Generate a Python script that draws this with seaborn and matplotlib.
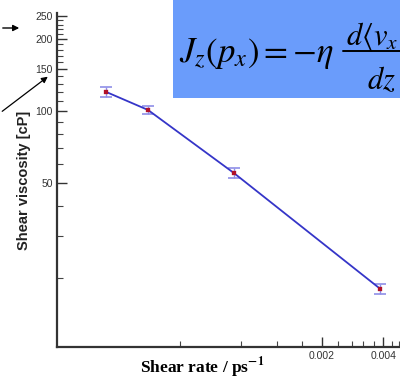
import numpy as np
import pandas as pd
import matplotlib
matplotlib.use("Agg")
import matplotlib.pyplot as plt
from matplotlib.ticker import FixedLocator, NullFormatter, FixedFormatter
from matplotlib.patches import Rectangle, FancyArrowPatch
from matplotlib.lines import Line2D
import seaborn as sns

# ---- data ----
shear_rate = [0.000175, 0.00028, 0.00074, 0.00388]
viscosity = [120.0, 101.0, 55.0, 18.0]
viscosity_err = [6.0, 3.5, 2.5, 0.9]
y_major = [50, 100, 150, 200, 250]
y_labels = ["50", "100", "150", "200", "250"]
x_major = [0.002, 0.004]
x_labels = ["0.002", "0.004"]

sns.set_style("white")
plt.rcParams["font.family"] = ["Liberation Sans", "DejaVu Sans"]
plt.rcParams["mathtext.fontset"] = "stix"

W, H = 400, 379
fig = plt.figure(figsize=(W / 100, H / 100), dpi=100)
left, right, top, bottom = 57, 400, 13, 347
ax = fig.add_axes([left / W, (H - bottom) / H, (right - left) / W, (bottom - top) / H])
ax.set_facecolor("white")

df = pd.DataFrame({"rate": shear_rate, "visc": viscosity, "err": viscosity_err})

ax.set_xscale("log")
ax.set_yscale("log")

ax.errorbar(df["rate"], df["visc"], yerr=df["err"], fmt="none",
            ecolor="#8f8fe8", elinewidth=1.0, capsize=4.5, capthick=1.2, zorder=2)
sns.lineplot(data=df, x="rate", y="visc", ax=ax, color="#3535c8",
             linewidth=1.3, zorder=3)
sns.scatterplot(data=df, x="rate", y="visc", ax=ax, marker="s", s=8,
                color="#b0102a", edgecolor="#b0102a", zorder=4)

ax.set_xlim(1e-4, 0.00484)
ax.set_ylim(10.3, 257)

# ticks
ax.yaxis.set_major_locator(FixedLocator(y_major))
ax.yaxis.set_major_formatter(FixedFormatter(y_labels))
y_minor = [v for v in range(20, 260, 10) if v not in y_major]
ax.yaxis.set_minor_locator(FixedLocator(y_minor))
ax.yaxis.set_minor_formatter(NullFormatter())

ax.xaxis.set_major_locator(FixedLocator(x_major))
ax.xaxis.set_major_formatter(FixedFormatter(x_labels))
x_minor = [0.0004 * k for k in range(1, 13) if k not in (5, 10)]
ax.xaxis.set_minor_locator(FixedLocator(x_minor))
ax.xaxis.set_minor_formatter(NullFormatter())

ax.tick_params(axis="both", which="major", direction="in", length=7, width=1.0,
               color="#333333", labelsize=7.5, labelcolor="#333333", pad=3)
ax.tick_params(axis="both", which="minor", direction="in", length=4, width=0.8,
               color="#444444")
ax.tick_params(axis="y", which="both", left=True, right=False)
ax.tick_params(axis="x", which="both", bottom=True, top=False)

for s in ["top", "right"]:
    ax.spines[s].set_visible(False)
for s in ["left", "bottom"]:
    ax.spines[s].set_color("#333333")
    ax.spines[s].set_linewidth(1.6)

ax.set_xlabel("Shear rate / ps$^{\\mathbf{-1}}$", fontsize=12.5, fontweight="bold",
              family=["Liberation Serif", "DejaVu Serif"], color="black")
ax.xaxis.set_label_coords((202 - left) / (right - left), (bottom - 373) / (bottom - top))
ax.xaxis.label.set_va("baseline")
ax.set_ylabel("Shear viscosity [cP]", fontsize=10.5, fontweight="bold",
              color="#222222", labelpad=3)

# formula box (top right)
fig.patches.append(Rectangle((173 / W, (H - 98) / H), (W - 173) / W, 98 / H,
                             transform=fig.transFigure, facecolor="#6a9cfb",
                             edgecolor="none", zorder=5))
fig.text(179 / W, (H - 62) / H, r"$J_{z}\left(p_{x}\right)=-\eta$",
         fontsize=25, color="black", va="baseline", ha="left", zorder=6)
fig.text(346 / W, (H - 45) / H, r"$d\langle v_{x}\rangle$",
         fontsize=22, color="black", va="baseline", ha="left", zorder=6)
fig.lines.append(Line2D([343 / W, 1.0], [(H - 51) / H, (H - 51) / H],
                        transform=fig.transFigure, color="black", lw=1.4, zorder=6))
fig.text(367 / W, (H - 89) / H, r"$dz$",
         fontsize=22, color="black", va="baseline", ha="left", zorder=6)

# arrows on the left
fig.patches.append(FancyArrowPatch((0, (H - 28) / H), (22 / W, (H - 28) / H),
                                   transform=fig.transFigure, arrowstyle="-|>",
                                   mutation_scale=9, color="black", lw=1.0))
fig.patches.append(FancyArrowPatch((0, (H - 113) / H), (50 / W, (H - 75) / H),
                                   transform=fig.transFigure, arrowstyle="-|>",
                                   mutation_scale=9, color="black", lw=0.9))

fig.savefig("out.png", dpi=100)
